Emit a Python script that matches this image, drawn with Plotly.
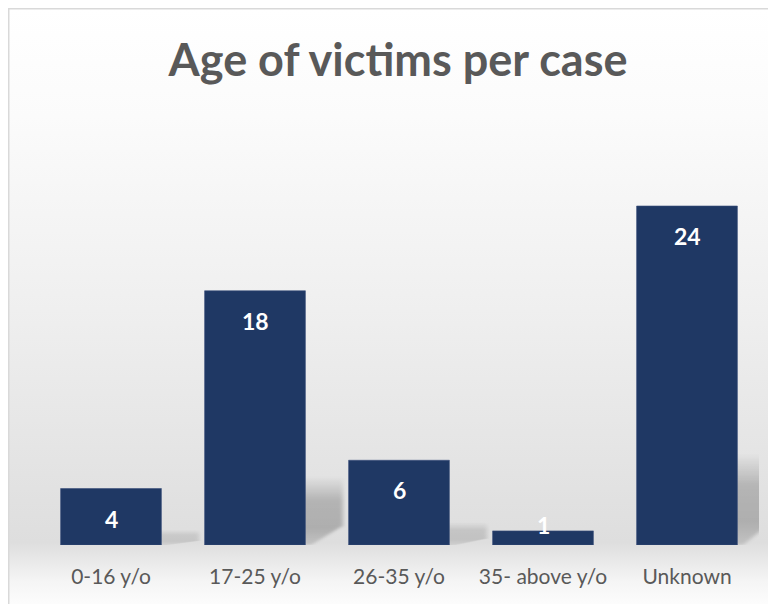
import plotly.graph_objects as go
import base64

categories = ["0-16 y/o", "17-25 y/o", "26-35 y/o", "35- above y/o", "Unknown"]
values = [4, 18, 6, 1, 24]
title_text = "Age of victims per case"

BAR_COLOR = "#1f3864"
TEXT_GRAY = "#595959"

# layout geometry (figure is drawn 8px in from the page edge by the body margin)
W, H = 776, 604
ML, MR, MT, MB = 31, 25, 114, 67
PLOT_W = W - ML - MR
PLOT_H = H - MT - MB
YMAX = 24 * PLOT_H / 339.0
PX_PER_UNIT = PLOT_H / YMAX


def svg_uri(svg):
    return "data:image/svg+xml;base64," + base64.b64encode(svg.encode()).decode()


bg_svg = (
    '<svg xmlns="http://www.w3.org/2000/svg" width="100" height="100" '
    'viewBox="0 0 100 100" preserveAspectRatio="none">'
    '<defs><linearGradient id="g" x1="0" y1="0" x2="0" y2="1">'
    '<stop offset="0" stop-color="#ffffff"/>'
    '<stop offset="0.18" stop-color="#fbfbfb"/>'
    '<stop offset="0.5" stop-color="#efefef"/>'
    '<stop offset="0.885" stop-color="#dedede"/>'
    '<stop offset="0.95" stop-color="#f5f5f5"/>'
    '<stop offset="1" stop-color="#ffffff"/>'
    '</linearGradient></defs>'
    '<rect x="0" y="0" width="100" height="100" fill="url(#g)"/></svg>'
)

shadow_svg = (
    '<svg xmlns="http://www.w3.org/2000/svg" width="98" height="100" '
    'viewBox="0 0 98 100" preserveAspectRatio="none">'
    '<defs><linearGradient id="s" x1="0" y1="0" x2="0" y2="1">'
    '<stop offset="0" stop-color="#000" stop-opacity="0"/>'
    '<stop offset="0.35" stop-color="#000" stop-opacity="0.2"/>'
    '<stop offset="0.75" stop-color="#000" stop-opacity="0.22"/>'
    '<stop offset="1" stop-color="#000" stop-opacity="0.12"/>'
    '</linearGradient>'
    '<filter id="b" x="-10%" y="-10%" width="120%" height="120%">'
    '<feGaussianBlur stdDeviation="1.5"/></filter></defs>'
    '<polygon points="15,0 96,0 96,72 74,100 0,100" fill="url(#s)" filter="url(#b)"/></svg>'
)

x0_paper = -ML / PLOT_W
y_top_paper = (PLOT_H + MT) / PLOT_H

images = [
    dict(source=svg_uri(bg_svg), xref="paper", yref="paper",
         x=x0_paper, y=y_top_paper, sizex=W / PLOT_W,
         sizey=H / PLOT_H, xanchor="left", yanchor="top",
         sizing="stretch", layer="below")
]

bar_w = 0.7
for i, v in enumerate(values):
    if v < 2:
        continue
    images.append(dict(source=svg_uri(shadow_svg), xref="x", yref="y",
                       x=i - bar_w / 2, y=0, sizex=0.98, sizey=v * 0.27,
                       xanchor="left", yanchor="bottom", sizing="stretch",
                       opacity=min(1.0, 0.3 + v / 22), layer="below"))

fig = go.Figure()
fig.add_trace(go.Bar(
    x=categories, y=values, width=bar_w,
    marker=dict(color=BAR_COLOR, line=dict(color="#3a4f7a", width=0.6)),
    hoverinfo="x+y",
))

annotations = []
for c, v in zip(categories, values):
    ys = -30 if v * PX_PER_UNIT > 40 else 6
    annotations.append(dict(x=c, y=v, xref="x", yref="y", text=str(v),
                            showarrow=False, yshift=ys,
                            font=dict(family="Lato", size=23, color="white", weight="bold")))

fig.update_layout(
    width=W, height=H,
    margin=dict(l=ML, r=MR, t=MT, b=MB, pad=0),
    paper_bgcolor="white",
    plot_bgcolor="rgba(0,0,0,0)",
    title=dict(text="<b>" + title_text + "</b>", x=(398 - 8) / W, xanchor="center",
               y=1 - 52 / H, yanchor="middle",
               font=dict(family="Lato", size=45, color=TEXT_GRAY)),
    xaxis=dict(type="category", showgrid=False, showline=False, zeroline=False,
               ticks="", ticklabelstandoff=17,
               tickfont=dict(family="Lato", size=21, color=TEXT_GRAY),
               range=[-0.5, len(categories) - 0.5], fixedrange=True),
    yaxis=dict(range=[0, YMAX], showgrid=False, showline=False, zeroline=False,
               showticklabels=False, ticks="", fixedrange=True),
    images=images,
    annotations=annotations,
    shapes=[dict(type="rect", xref="paper", yref="paper",
                 x0=x0_paper + 0.5 / PLOT_W, x1=1.2, y0=-0.3,
                 y1=y_top_paper - 0.5 / PLOT_H,
                 line=dict(color="#d9d9d9", width=2), layer="above")],
    showlegend=False,
)

fig.write_html("out.html")
